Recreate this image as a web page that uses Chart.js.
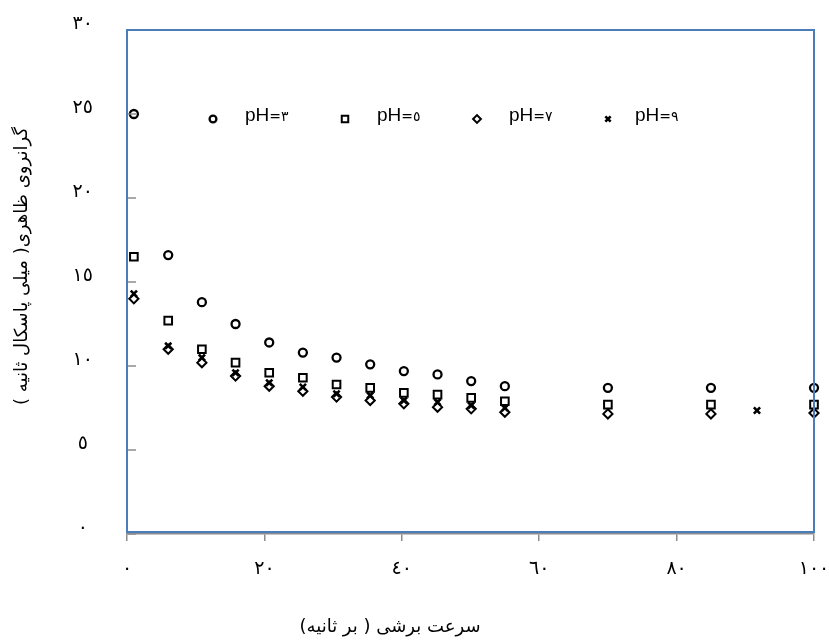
<!DOCTYPE html>
<html>
<head>
<meta charset="utf-8">
<script src="https://cdn.jsdelivr.net/npm/chart.js@4.4.0/dist/chart.umd.min.js"></script>
<style>
html, body { margin: 0; padding: 0; background: #fff; }
</style>
</head>
<body>
<canvas id="myChart" width="829" height="640"></canvas>
<script>
// data
var shearRate = [1, 6, 10.9, 15.8, 20.7, 25.6, 30.5, 35.4, 40.3, 45.2, 50.1, 55, 70, 85, 100];
var viscPh3 = [25, 16.6, 13.8, 12.5, 11.4, 10.8, 10.5, 10.1, 9.7, 9.5, 9.1, 8.8, 8.7, 8.7, 8.7];
var viscPh5 = [16.5, 12.7, 11.0, 10.2, 9.6, 9.3, 8.9, 8.7, 8.4, 8.3, 8.1, 7.9, 7.7, 7.7, 7.7];
var viscPh7 = [14.0, 11.0, 10.2, 9.4, 8.8, 8.5, 8.15, 7.95, 7.75, 7.55, 7.45, 7.25, 7.15, 7.15, 7.2];
var shearRatePh9 = [1, 6, 10.9, 15.8, 20.7, 25.6, 30.5, 35.4, 40.3, 45.2, 50.1, 55, 91.7];
var viscPh9 = [14.3, 11.2, 10.5, 9.6, 9.0, 8.75, 8.35, 8.25, 7.95, 7.85, 7.65, 7.5, 7.35];

var seriesNames = ['pH=٣', 'pH=٥', 'pH=٧', 'pH=٩'];
var xTicks = [0, 20, 40, 60, 80, 100];
var yTicks = [0, 5, 10, 15, 20, 25, 30];
var xTitle = 'سرعت برشی ( بر ثانیه)';
var yTitle = 'گرانروی ظاهری( میلی پاسکال ثانیه )';

function arabicDigits(n) {
    var d = '٠١٢٣٤٥٦٧٨٩';
    return String(n).replace(/[0-9]/g, function(c) { return d[+c]; });
}

function points(xs, ys) {
    var out = [];
    for (var i = 0; i < ys.length; i++) {
        out.push({ x: xs[i], y: ys[i] });
    }
    return out;
}

var legendSpots = [213, 345, 477, 608];

var decor = {
    id: 'decor',
    afterDatasetsDraw: function(chart) {
        var ctx = chart.ctx;
        var a = chart.chartArea;
        var ys = chart.scales.y;
        ctx.save();
        // small inner ticks on the left edge
        ctx.strokeStyle = '#8c8c8c';
        ctx.lineWidth = 1.5;
        yTicks.forEach(function(v) {
            var py = Math.round(ys.getPixelForValue(v));
            ctx.beginPath();
            ctx.moveTo(a.left, py);
            ctx.lineTo(a.left + 9, py);
            ctx.stroke();
        });
        // blue frame round the plot
        ctx.strokeStyle = '#4a7ebb';
        ctx.lineWidth = 2;
        ctx.strokeRect(a.left, a.top, a.right - a.left, a.bottom - a.top - 2);
        ctx.restore();
    },
    afterDraw: function(chart) {
        var ctx = chart.ctx;
        ctx.save();
        // legend inside the plot
        chart.data.datasets.forEach(function(ds, i) {
            var mx = legendSpots[i];
            ctx.strokeStyle = '#000';
            ctx.fillStyle = 'rgba(0,0,0,0)';
            ctx.lineWidth = ds.borderWidth;
            Chart.helpers.drawPoint(ctx, {
                pointStyle: ds.pointStyle,
                radius: ds.pointRadius * 0.85,
                borderWidth: ds.borderWidth,
                rotation: 0
            }, mx, 119);
            var tx = mx + 32 - (i == 3 ? 5 : 0);
            ctx.fillStyle = '#000';
            ctx.textBaseline = 'middle';
            ctx.textAlign = 'left';
            ctx.direction = 'ltr';
            ctx.font = '19px "Liberation Sans"';
            ctx.fillText('pH', tx, 116);
            var w = ctx.measureText('pH').width;
            ctx.font = '14px "DejaVu Sans"';
            ctx.fillText(ds.label.replace('pH', ''), tx + w, 117);
        });
        // axis titles
        ctx.fillStyle = '#000';
        ctx.textAlign = 'center';
        ctx.textBaseline = 'middle';
        ctx.direction = 'rtl';
        ctx.font = '18px "DejaVu Sans"';
        ctx.fillText(xTitle, 390, 627);
        ctx.translate(22, 266);
        ctx.rotate(-Math.PI / 2);
        ctx.fillText(yTitle, 0, 0);
        ctx.restore();
    }
};

function chartCreate() {
    var styles = [
        { pointStyle: 'circle', pointRadius: 4, borderWidth: 2.3 },
        { pointStyle: 'rect', pointRadius: 5.4, borderWidth: 2 },
        { pointStyle: 'rectRot', pointRadius: 4.6, borderWidth: 2 },
        { pointStyle: 'crossRot', pointRadius: 4.4, borderWidth: 2.6 }
    ];
    var series = [
        points(shearRate, viscPh3),
        points(shearRate, viscPh5),
        points(shearRate, viscPh7),
        points(shearRatePh9, viscPh9)
    ];
    var datasets = [];
    for (var i = 0; i < series.length; i++) {
        datasets.push({
            label: seriesNames[i],
            data: series[i],
            pointStyle: styles[i].pointStyle,
            pointRadius: styles[i].pointRadius,
            borderWidth: styles[i].borderWidth,
            borderColor: '#000',
            backgroundColor: 'rgba(0,0,0,0)',
            showLine: false,
            clip: false
        });
    }

    const config = {
        type: 'scatter',
        data: { datasets: datasets },
        options: {
            responsive: false,
            animation: false,
            events: [],
            layout: { padding: { top: 30, right: 15, left: 0, bottom: 0 } },
            plugins: {
                legend: { display: false },
                tooltip: { enabled: false }
            },
            scales: {
                x: {
                    type: 'linear',
                    min: 0,
                    max: 100,
                    afterBuildTicks: function(s) { s.ticks = xTicks.map(function(v) { return { value: v }; }); },
                    afterFit: function(s) { s.height = 106; s.paddingLeft = 0; s.paddingRight = 0; },
                    grid: { drawOnChartArea: false, drawTicks: true, tickLength: 7, color: '#8c8c8c', lineWidth: 1.5 },
                    border: { display: true, color: '#8c8c8c', width: 1.5 },
                    ticks: {
                        padding: 17,
                        color: '#000',
                        font: { family: 'DejaVu Sans', size: 19 },
                        maxRotation: 0,
                        callback: function(v) { return arabicDigits(v); }
                    }
                },
                y: {
                    type: 'linear',
                    min: 0,
                    max: 30,
                    afterBuildTicks: function(s) { s.ticks = yTicks.map(function(v) { return { value: v }; }); },
                    afterFit: function(s) { s.width = 127; s.paddingTop = 0; s.paddingBottom = 0; },
                    grid: { display: false, drawTicks: false },
                    border: { display: false },
                    ticks: {
                        padding: 34,
                        crossAlign: 'center',
                        labelOffset: -6,
                        color: '#000',
                        font: { family: 'DejaVu Sans', size: 19 },
                        callback: function(v) { return arabicDigits(v); }
                    }
                }
            }
        },
        plugins: [decor]
    };
    new Chart(document.getElementById('myChart'), config);
}

chartCreate();
</script>
</body>
</html>
